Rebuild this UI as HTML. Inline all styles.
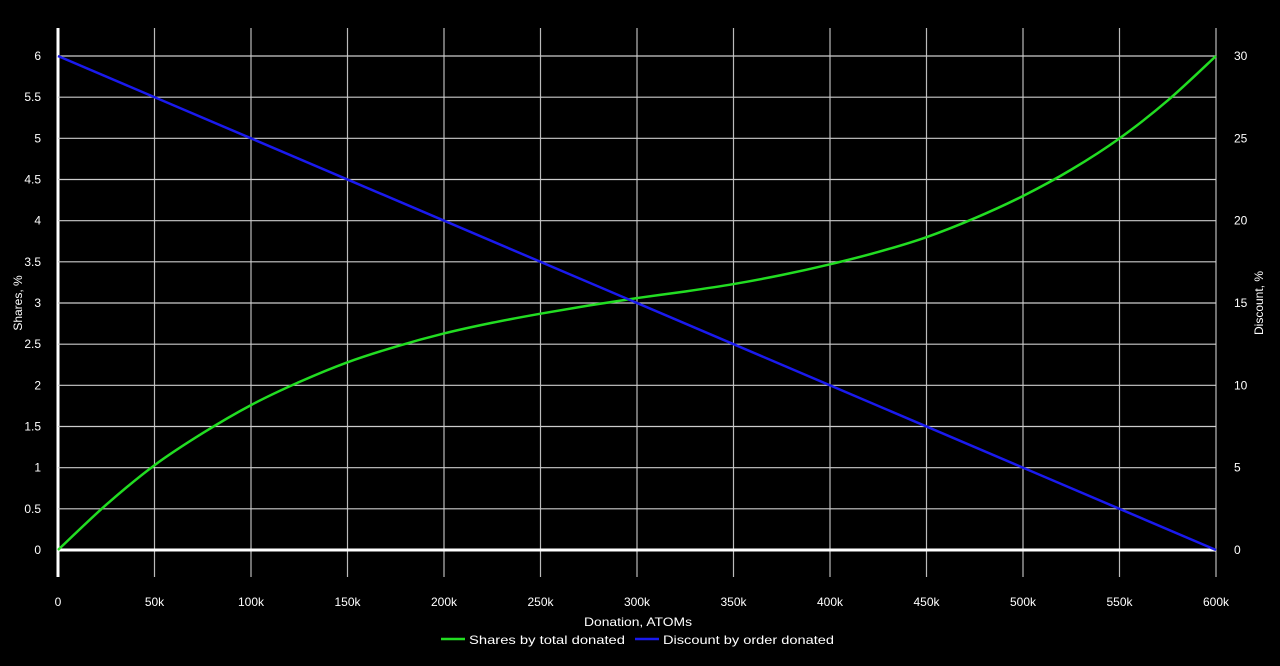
<!DOCTYPE html>
<html><head><meta charset="utf-8"><style>
body{margin:0;background:#000;width:1280px;height:661px;overflow:hidden;font-family:"Liberation Sans",sans-serif}
svg text{fill:#fff;font-size:12px;font-family:"Liberation Sans",sans-serif}
</style></head><body>
<svg id="c" width="1280" height="661"></svg>
<script>
const xTicks=[0,50000,100000,150000,200000,250000,300000,350000,400000,450000,500000,550000,600000];
const xTickLabels=["0","50k","100k","150k","200k","250k","300k","350k","400k","450k","500k","550k","600k"];
const yLeftTicks=[0,0.5,1,1.5,2,2.5,3,3.5,4,4.5,5,5.5,6];
const yRightTicks=[0,5,10,15,20,25,30];
const sharesX=[0,25000,50000,75000,100000,125000,150000,175000,200000,225000,250000,275000,300000,325000,350000,375000,400000,425000,450000,475000,500000,525000,550000,575000,600000];
const sharesY=[0,0.55,1.03,1.42,1.76,2.04,2.28,2.47,2.63,2.76,2.87,2.97,3.06,3.14,3.23,3.34,3.47,3.62,3.8,4.03,4.3,4.62,5.0,5.46,6.0];
const discountX=[0,600000];
const discountY=[30,0];
const NS="http://www.w3.org/2000/svg";
const svg=document.getElementById('c');
const X0=58,X1=1216,Y0=550,Y1=56;
const xs=v=>X0+(X1-X0)*v/600000;
const yl=v=>Y0-(Y0-Y1)*v/6;
const yr=v=>Y0-(Y0-Y1)*v/30;
function mk(t,a,txt){const e=document.createElementNS(NS,t);for(const k in a)e.setAttribute(k,a[k]);if(txt!==undefined)e.textContent=txt;svg.appendChild(e);return e;}
xTicks.forEach((v,i)=>{
 const l=mk('line',{x1:xs(v),x2:xs(v),y1:28,y2:577,stroke:i==0?'#fff':'#bbb','stroke-width':i==0?3:1.2});
 
 
 const t=mk('text',{x:xs(v),y:606,'text-anchor':'middle'},xTickLabels[i]);
 
 
});
yLeftTicks.forEach(v=>{
 const l=mk('line',{x1:X0,x2:X1,y1:yl(v),y2:yl(v),stroke:v==0?'#fff':'#ccc','stroke-width':v==0?3:1.2});
 
 
 const t=mk('text',{x:41,y:yl(v)+4,'text-anchor':'end'},String(v));
 
 
});
yRightTicks.forEach(v=>{
 const t=mk('text',{x:1234,y:yr(v)+4,'text-anchor':'start'},String(v));
 
 
});
function smooth(px,py){let d=`M${px[0]},${py[0]}`;for(let i=0;i<px.length-1;i++){const p0=i?i-1:i,p3=i+2<px.length?i+2:i+1;
const c1x=px[i]+(px[i+1]-px[p0])/6,c1y=py[i]+(py[i+1]-py[p0])/6,c2x=px[i+1]-(px[p3]-px[i])/6,c2y=py[i+1]-(py[p3]-py[i])/6;
d+=` C${c1x},${c1y} ${c2x},${c2y} ${px[i+1]},${py[i+1]}`;}return d;}
const g=mk('path',{d:smooth(sharesX.map(xs),sharesY.map(yl)),fill:'none',stroke:'#22dd22','stroke-width':2.5});


const b=mk('path',{d:'M'+discountX.map((v,i)=>xs(v)+','+yr(discountY[i])).join(' L'),fill:'none',stroke:'#1a1aee','stroke-width':2.5});


let t=mk('text',{x:584,y:626,'font-size':'13',textLength:108,lengthAdjust:'spacingAndGlyphs'},'Donation, ATOMs');


t=mk('text',{x:22,y:303,'text-anchor':'middle','font-size':'13',transform:'rotate(-90 22 303)'},'Shares, %');


t=mk('text',{x:1263,y:303,'text-anchor':'middle','font-size':'13',transform:'rotate(-90 1263 303)'},'Discount, %');


let l=mk('line',{x1:441,x2:465,y1:639,y2:639,stroke:'#22dd22','stroke-width':2.5});


t=mk('text',{x:469,y:644,'font-size':'14',textLength:156,lengthAdjust:'spacingAndGlyphs'},'Shares by total donated');


l=mk('line',{x1:635,x2:659,y1:639,y2:639,stroke:'#1a1aee','stroke-width':2.5});


t=mk('text',{x:663,y:644,'font-size':'14',textLength:171,lengthAdjust:'spacingAndGlyphs'},'Discount by order donated');


</script>
</body></html>
